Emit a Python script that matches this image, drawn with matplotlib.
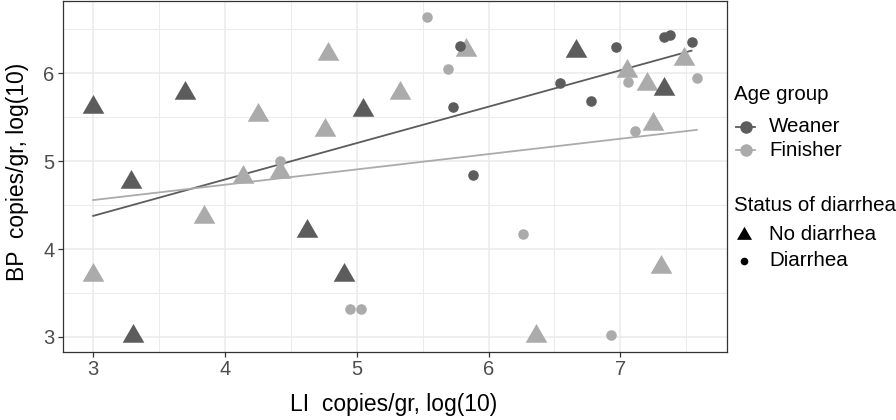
import numpy as np
import matplotlib
matplotlib.use('Agg')
import matplotlib.pyplot as plt
from matplotlib.path import Path
from matplotlib.lines import Line2D

plt.rcParams['font.family'] = ['Liberation Sans', 'DejaVu Sans']

# Weaner, no diarrhea
wn_x = [3.00, 3.29, 3.70, 5.05, 4.62, 4.90, 3.30, 6.66, 7.33]
wn_y = [5.62, 4.76, 5.78, 5.58, 4.21, 3.71, 3.01, 6.25, 5.82]
# Weaner, diarrhea
wd_x = [5.78, 5.73, 5.88, 6.54, 6.78, 6.97, 7.33, 7.38, 7.54]
wd_y = [6.31, 5.61, 4.84, 5.89, 5.68, 6.30, 6.41, 6.43, 6.36]
# Finisher, no diarrhea
fn_x = [3.00, 4.25, 4.78, 4.76, 4.14, 4.42, 3.84, 5.83, 5.325, 7.48, 7.05, 7.20, 7.245, 7.31, 6.36]
fn_y = [3.71, 5.53, 6.22, 5.35, 4.82, 4.88, 4.36, 6.26, 5.77, 6.16, 6.02, 5.88, 5.42, 3.79, 3.01]
# Finisher, diarrhea
fd_x = [5.535, 5.69, 4.42, 7.06, 7.58, 7.11, 6.26, 6.93, 4.95, 5.03]
fd_y = [6.64, 6.045, 5.00, 5.90, 5.94, 5.34, 4.17, 3.02, 3.32, 3.32]

dark = '#5c5c5c'
light = '#ababab'

# triangle centred on its centroid, like R's pch 17
tri = Path([(0, 1.555), (1.347, -0.778), (-1.347, -0.778), (0, 1.555)],
           [Path.MOVETO, Path.LINETO, Path.LINETO, Path.CLOSEPOLY])

fig = plt.figure(figsize=(8.96, 4.2), dpi=100)
ax = fig.add_axes([63/896, 1 - 352/420, 664/896, 351/420])

# regression lines per age group
for xs, ys, c in [(wn_x + wd_x, wn_y + wd_y, dark), (fn_x + fd_x, fn_y + fd_y, light)]:
    xs = np.array(xs); ys = np.array(ys)
    b, a = np.polyfit(xs, ys, 1)
    xx = np.array([xs.min(), xs.max()])
    ax.plot(xx, a + b * xx, color=c, lw=1.3, zorder=2)

ax.plot(fn_x, fn_y, ls='none', marker=tri, ms=18, mew=0, color=light, zorder=3)
ax.plot(fd_x, fd_y, ls='none', marker='o', ms=7.6, mew=0, color=light, zorder=3)
ax.plot(wn_x, wn_y, ls='none', marker=tri, ms=18, mew=0, color=dark, zorder=3)
ax.plot(wd_x, wd_y, ls='none', marker='o', ms=7.6, mew=0, color=dark, zorder=3)

all_x = wn_x + wd_x + fn_x + fd_x
all_y = wn_y + wd_y + fn_y + fd_y
rx = max(all_x) - min(all_x)
ry = max(all_y) - min(all_y)
ax.set_xlim(min(all_x) - 0.05 * rx, max(all_x) + 0.05 * rx)
ax.set_ylim(min(all_y) - 0.05 * ry, max(all_y) + 0.05 * ry)

ax.set_xticks([3, 4, 5, 6, 7])
ax.set_xticks([3.5, 4.5, 5.5, 6.5, 7.5], minor=True)
ax.set_yticks([3, 4, 5, 6])
ax.set_yticks([3.5, 4.5, 5.5, 6.5], minor=True)
ax.grid(which='major', color='#ebebeb', lw=1.1, zorder=0)
ax.grid(which='minor', color='#ebebeb', lw=0.7, zorder=0)
ax.set_axisbelow(True)
ax.tick_params(which='major', length=3.5, width=0.9, color='#333333',
               labelsize=14.5, labelcolor='#4d4d4d', pad=2.5)
ax.tick_params(which='minor', length=0)
for s in ax.spines.values():
    s.set_color('#333333')
    s.set_linewidth(0.9)

fig.text(394/896, 1 - 404/420, 'LI  copies/gr, log(10)', ha='center', va='center', fontsize=16.5)
fig.text(18/896, 1 - 172/420, 'BP  copies/gr, log(10)', ha='center', va='center',
         rotation=90, fontsize=16.5)

# legends drawn by hand
def fx(px): return px / 896
def fy(py): return 1 - py / 420

fs = 14.8
fig.text(fx(734), fy(95), 'Age group', ha='left', va='center', fontsize=fs)
for py, lab, c in [(127, 'Weaner', dark), (150, 'Finisher', light)]:
    fig.add_artist(Line2D([fx(736), fx(755)], [fy(py), fy(py)], color=c, lw=1.3,
                          transform=fig.transFigure))
    fig.add_artist(Line2D([fx(745.5)], [fy(py)], marker='o', ms=9, mew=0, color=c,
                          transform=fig.transFigure))
    fig.text(fx(769), fy(py), lab, ha='left', va='center', fontsize=fs)

fig.text(fx(734), fy(205), 'Status of diarrhea', ha='left', va='center', fontsize=fs)
fig.add_artist(Line2D([fx(744)], [fy(235)], marker=tri, ms=12.5, mew=0, color='black',
                      transform=fig.transFigure))
fig.text(fx(769), fy(235), 'No diarrhea', ha='left', va='center', fontsize=fs)
fig.add_artist(Line2D([fx(744)], [fy(261)], marker='o', ms=5.5, mew=0, color='black',
                      transform=fig.transFigure))
fig.text(fx(769), fy(261), 'Diarrhea', ha='left', va='center', fontsize=fs)

fig.savefig('out.png', dpi=100)
